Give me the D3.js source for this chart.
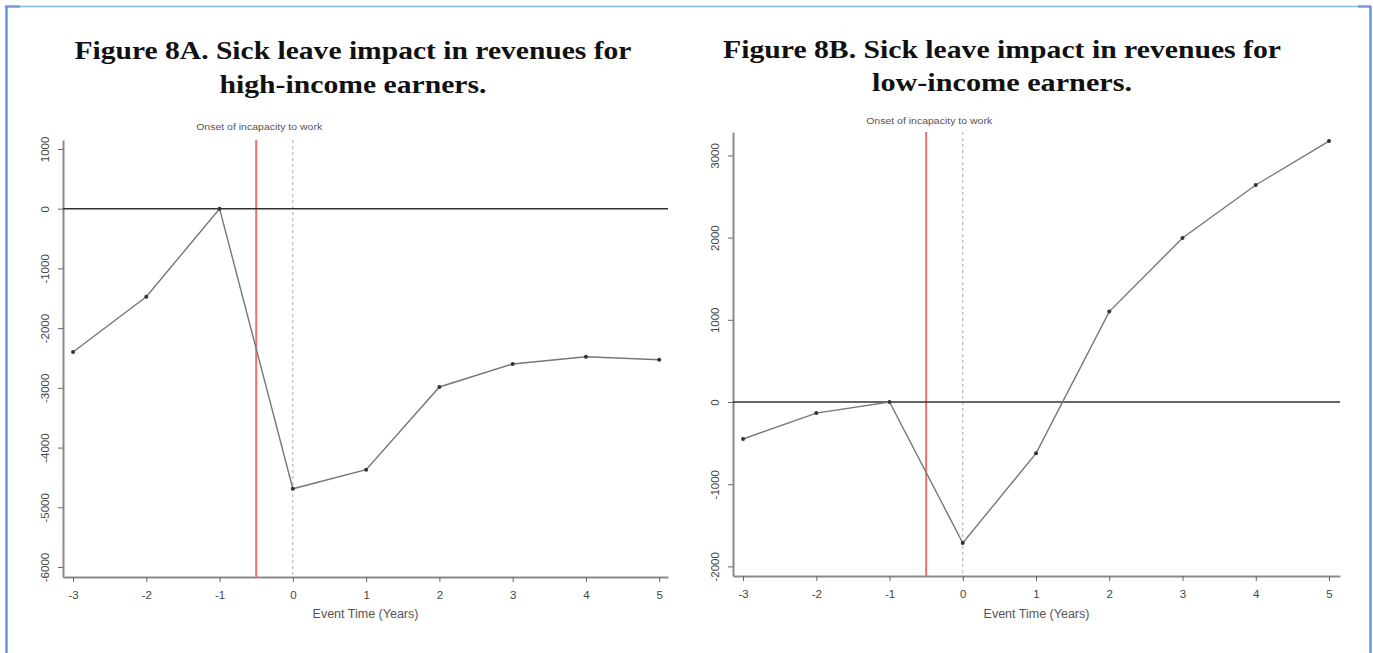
<!DOCTYPE html>
<html>
<head>
    <meta charset="utf-8">
    <script src="https://d3js.org/d3.v7.min.js"></script>
    <style type="text/css">
        body { margin: 0; background: #fff; }
        svg { display: block; }
        .title { font-family: "Liberation Serif", "Times New Roman", serif; font-weight: bold; font-size: 25px; fill: #111; }
        .tick text { font-family: "Liberation Sans", Arial, sans-serif; font-size: 11.5px; fill: #444; }
        .xlabel { font-family: "Liberation Sans", Arial, sans-serif; font-size: 12.5px; fill: #555; }
        .onset { font-family: "Liberation Sans", Arial, sans-serif; font-size: 8.5px; fill: #555; }
    </style>
</head>
<body>
    <script type="text/javascript">

        var w = 1373;
        var h = 653;

        // event time (years) and the estimated impacts
        var years = [-3, -2, -1, 0, 1, 2, 3, 4, 5];
        var highIncome = [-2400, -1475, 0, -4690, -4370, -2985, -2600, -2480, -2530];
        var lowIncome = [-450, -135, 0, -1715, -625, 1100, 1995, 2640, 3175];

        // tick labels
        var highTicks = [1000, 0, -1000, -2000, -3000, -4000, -5000, -6000];
        var lowTicks = [3000, 2000, 1000, 0, -1000, -2000];
        var onsetTime = -0.5;

        var titlesA = ["Figure 8A. Sick leave impact in revenues for", "high-income earners."];
        var titlesB = ["Figure 8B. Sick leave impact in revenues for", "low-income earners."];

        var svg = d3.select("body")
            .append("svg")
            .attr("width", w)
            .attr("height", h);

        // blue frame around the figure
        svg.append("line").attr("x1", 5).attr("x2", 1371).attr("y1", 6.5).attr("y2", 6.5)
            .attr("stroke", "#8db3e2").attr("stroke-width", 1.5);
        svg.append("line").attr("x1", 5).attr("x2", 20).attr("y1", 6.5).attr("y2", 6.5)
            .attr("stroke", "#7a9fd6").attr("stroke-width", 2.5);
        svg.append("line").attr("x1", 1358).attr("x2", 1371).attr("y1", 6.5).attr("y2", 6.5)
            .attr("stroke", "#7a9fd6").attr("stroke-width", 2.5);
        svg.append("line").attr("x1", 6.5).attr("x2", 6.5).attr("y1", 6).attr("y2", h)
            .attr("stroke", "#5b9bd5").attr("stroke-width", 2.5);
        svg.append("line").attr("x1", 1370.5).attr("x2", 1370.5).attr("y1", 6).attr("y2", h)
            .attr("stroke", "#5b9bd5").attr("stroke-width", 2.5);

        // plain hyphen for negatives, as in the original
        var fmt = function(d) { return String(d); };

        function drawPanel(p) {
            var g = svg.append("g");

            // titles
            p.titles.forEach(function(t, i) {
                g.append("text")
                    .attr("class", "title")
                    .attr("x", p.titleX)
                    .attr("y", p.titleY[i])
                    .attr("text-anchor", "middle")
                    .attr("textLength", p.titleLen[i])
                    .attr("lengthAdjust", "spacingAndGlyphs")
                    .text(t);
            });

            var xScale = d3.scaleLinear().domain(p.xDomain).range(p.xRange);
            var yScale = d3.scaleLinear().domain(p.yDomain).range(p.yRange);

            // x axis
            var xAxis = g.append("g")
                .attr("transform", "translate(0," + p.yRange[0] + ")")
                .call(d3.axisBottom(xScale).tickValues(years).tickSize(5).tickSizeOuter(0)
                    .tickPadding(9).tickFormat(fmt));
            // y axis
            var yAxis = g.append("g")
                .attr("transform", "translate(" + p.xRange[0] + ",0)")
                .call(d3.axisLeft(yScale).tickValues(p.yTicks).tickSize(5).tickSizeOuter(0)
                    .tickFormat(fmt));
            yAxis.selectAll(".tick text")
                .attr("transform", "rotate(-90)")
                .attr("x", 0)
                .attr("y", -14)
                .attr("dy", 0)
                .attr("text-anchor", "middle");

            [xAxis, yAxis].forEach(function(a) {
                a.select(".domain").attr("stroke", "#8a8a8a").attr("stroke-width", 2);
                a.selectAll(".tick line").attr("stroke", "#666");
            });

            // dotted line at event time 0
            g.append("line")
                .attr("x1", xScale(0)).attr("x2", xScale(0))
                .attr("y1", p.yRange[1]).attr("y2", p.yRange[0])
                .attr("stroke", "#aaa").attr("stroke-width", 1)
                .attr("stroke-dasharray", "3,3");

            // onset of incapacity
            g.append("line")
                .attr("x1", xScale(onsetTime)).attr("x2", xScale(onsetTime))
                .attr("y1", p.yRange[1]).attr("y2", p.yRange[0])
                .attr("stroke", "#f07070").attr("stroke-width", 2);
            g.append("text")
                .attr("class", "onset")
                .attr("x", xScale(onsetTime) + 3)
                .attr("y", p.onsetY)
                .attr("text-anchor", "middle")
                .attr("textLength", 126)
                .attr("lengthAdjust", "spacingAndGlyphs")
                .text("Onset of incapacity to work");

            // zero line
            g.append("line")
                .attr("x1", p.xRange[0]).attr("x2", p.xRange[1])
                .attr("y1", yScale(0)).attr("y2", yScale(0))
                .attr("stroke", "#333").attr("stroke-width", 1.4);

            var line = d3.line()
                .x(function(d, i) { return xScale(years[i]); })
                .y(function(d) { return yScale(d); });

            g.append("path")
                .datum(p.values)
                .attr("d", line)
                .attr("fill", "none")
                .attr("stroke", "#777")
                .attr("stroke-width", 1.4);

            g.selectAll("circle")
                .data(p.values)
                .enter()
                .append("circle")
                .attr("cx", function(d, i) { return xScale(years[i]); })
                .attr("cy", function(d) { return yScale(d); })
                .attr("r", 2)
                .attr("fill", "#333");

            g.append("text")
                .attr("class", "xlabel")
                .attr("x", (p.xRange[0] + p.xRange[1]) / 2)
                .attr("y", 618)
                .attr("text-anchor", "middle")
                .text("Event Time (Years)");
        }

        drawPanel({
            titles: titlesA,
            titleX: 353,
            titleY: [59, 93],
            titleLen: [557, 267],
            xDomain: [-3.137, 5.12],
            xRange: [63, 668],
            yDomain: [-6167, 1150],
            yRange: [577, 140],
            yTicks: highTicks,
            values: highIncome,
            onsetY: 130
        });

        drawPanel({
            titles: titlesB,
            titleX: 1002,
            titleY: [58, 91],
            titleLen: [558, 260],
            xDomain: [-3.137, 5.15],
            xRange: [733, 1340],
            yDomain: [-2117, 3285],
            yRange: [576, 132],
            yTicks: lowTicks,
            values: lowIncome,
            onsetY: 124
        });

    </script>
</body>
</html>
